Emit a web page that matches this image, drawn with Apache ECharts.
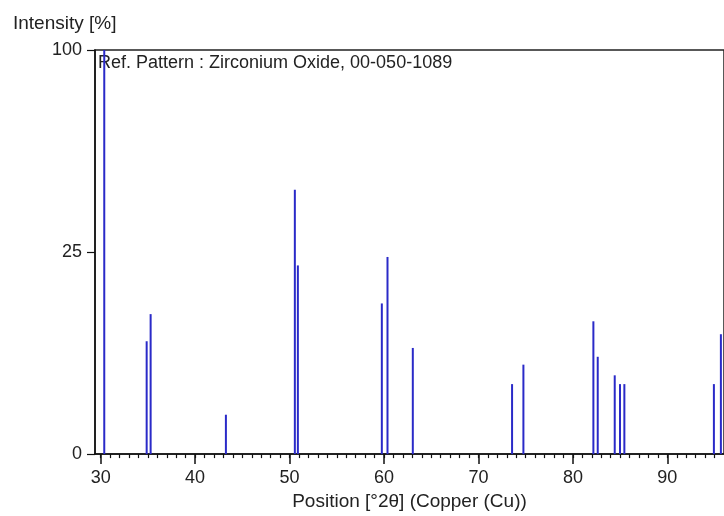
<!DOCTYPE html>
<html>
<head>
<meta charset="utf-8">
<script src="https://cdn.jsdelivr.net/npm/echarts@6/dist/echarts.min.js"></script>
<style>
html,body{margin:0;padding:0;background:#fff;}
#chart{width:724px;height:516px;}
</style>
</head>
<body>
<div id="chart"></div>
<script>
// Reference pattern peaks: position [°2θ] and relative intensity [%]
const positions = [30.38, 34.87, 35.29, 43.26, 50.56, 50.88, 59.77, 60.37, 63.05, 73.56, 74.76, 82.17, 82.63, 84.43, 84.99, 85.45, 94.93, 95.67];
const intensities = [100, 7.8, 12.0, 0.95, 42.8, 21.8, 13.9, 23.8, 6.9, 3.0, 4.9, 10.8, 5.8, 3.8, 3.0, 3.0, 3.0, 8.8];
const xMajorTicks = [30, 40, 50, 60, 70, 80, 90];
const xMinorTicks = [];
for (let v = 30; v <= 95; v++) xMinorTicks.push(v);
const yTickPercents = [0, 25, 100];

const FONT = '"Liberation Sans", Arial, sans-serif';
const chart = echarts.init(document.getElementById('chart'), null, {renderer: 'canvas'});

const data = positions.map((p, i) => [p, Math.sqrt(intensities[i])]);

chart.setOption({
  animation: false,
  backgroundColor: '#ffffff',
  grid: {left: 95, right: -2, top: 50, bottom: 61, show: true, borderColor: '#222', borderWidth: 1.5, backgroundColor: 'transparent'},
  xAxis: [{
    type: 'value', min: 29.4, max: 96,
    name: 'Position [°2θ] (Copper (Cu))', nameLocation: 'middle', nameGap: 27,
    nameTextStyle: {fontFamily: FONT, fontSize: 19, color: '#222'},
    axisLine: {show: true, lineStyle: {color: '#111', width: 1.5}},
    axisTick: {show: true, length: 10, customValues: xMajorTicks, lineStyle: {color: '#111', width: 1.5}},
    axisLabel: {show: true, customValues: xMajorTicks, margin: 15, fontFamily: FONT, fontSize: 18, color: '#222'},
    splitLine: {show: false}
  }, {
    type: 'value', min: 29.4, max: 96, position: 'bottom',
    axisLine: {show: false},
    axisTick: {show: true, length: 4, customValues: xMinorTicks, lineStyle: {color: '#111', width: 1.2}},
    axisLabel: {show: false},
    splitLine: {show: false}
  }],
  yAxis: {
    type: 'value', min: 0, max: 10, interval: 5,
    axisLine: {show: true, lineStyle: {color: '#111', width: 1.5}},
    axisTick: {show: true, length: 8, lineStyle: {color: '#111', width: 1.2}},
    axisLabel: {margin: 13, fontFamily: FONT, fontSize: 18, color: '#222',
      formatter: v => String(Math.round(v * v))},
    splitLine: {show: false}
  },
  graphic: [
    {type: 'text', left: 13, top: 14, z: 1, style: {text: 'Intensity [%]', font: '19px ' + FONT, fill: '#222'}},
    {type: 'text', left: 98, top: 54, z: 1, style: {text: 'Ref. Pattern : Zirconium Oxide, 00-050-1089', font: '18px ' + FONT, fill: '#222'}}
  ],
  series: [{
    type: 'custom',
    xAxisIndex: 0,
    z: 5,
    data: data,
    renderItem: function (params, api) {
      const x = api.value(0), y = api.value(1);
      const p0 = api.coord([x, 0]);
      const p1 = api.coord([x, y]);
      return {
        type: 'line',
        shape: {x1: p0[0], y1: p0[1], x2: p1[0], y2: p1[1]},
        style: {stroke: '#2a2ac8', lineWidth: 2}
      };
    }
  }]
});
</script>
</body>
</html>
